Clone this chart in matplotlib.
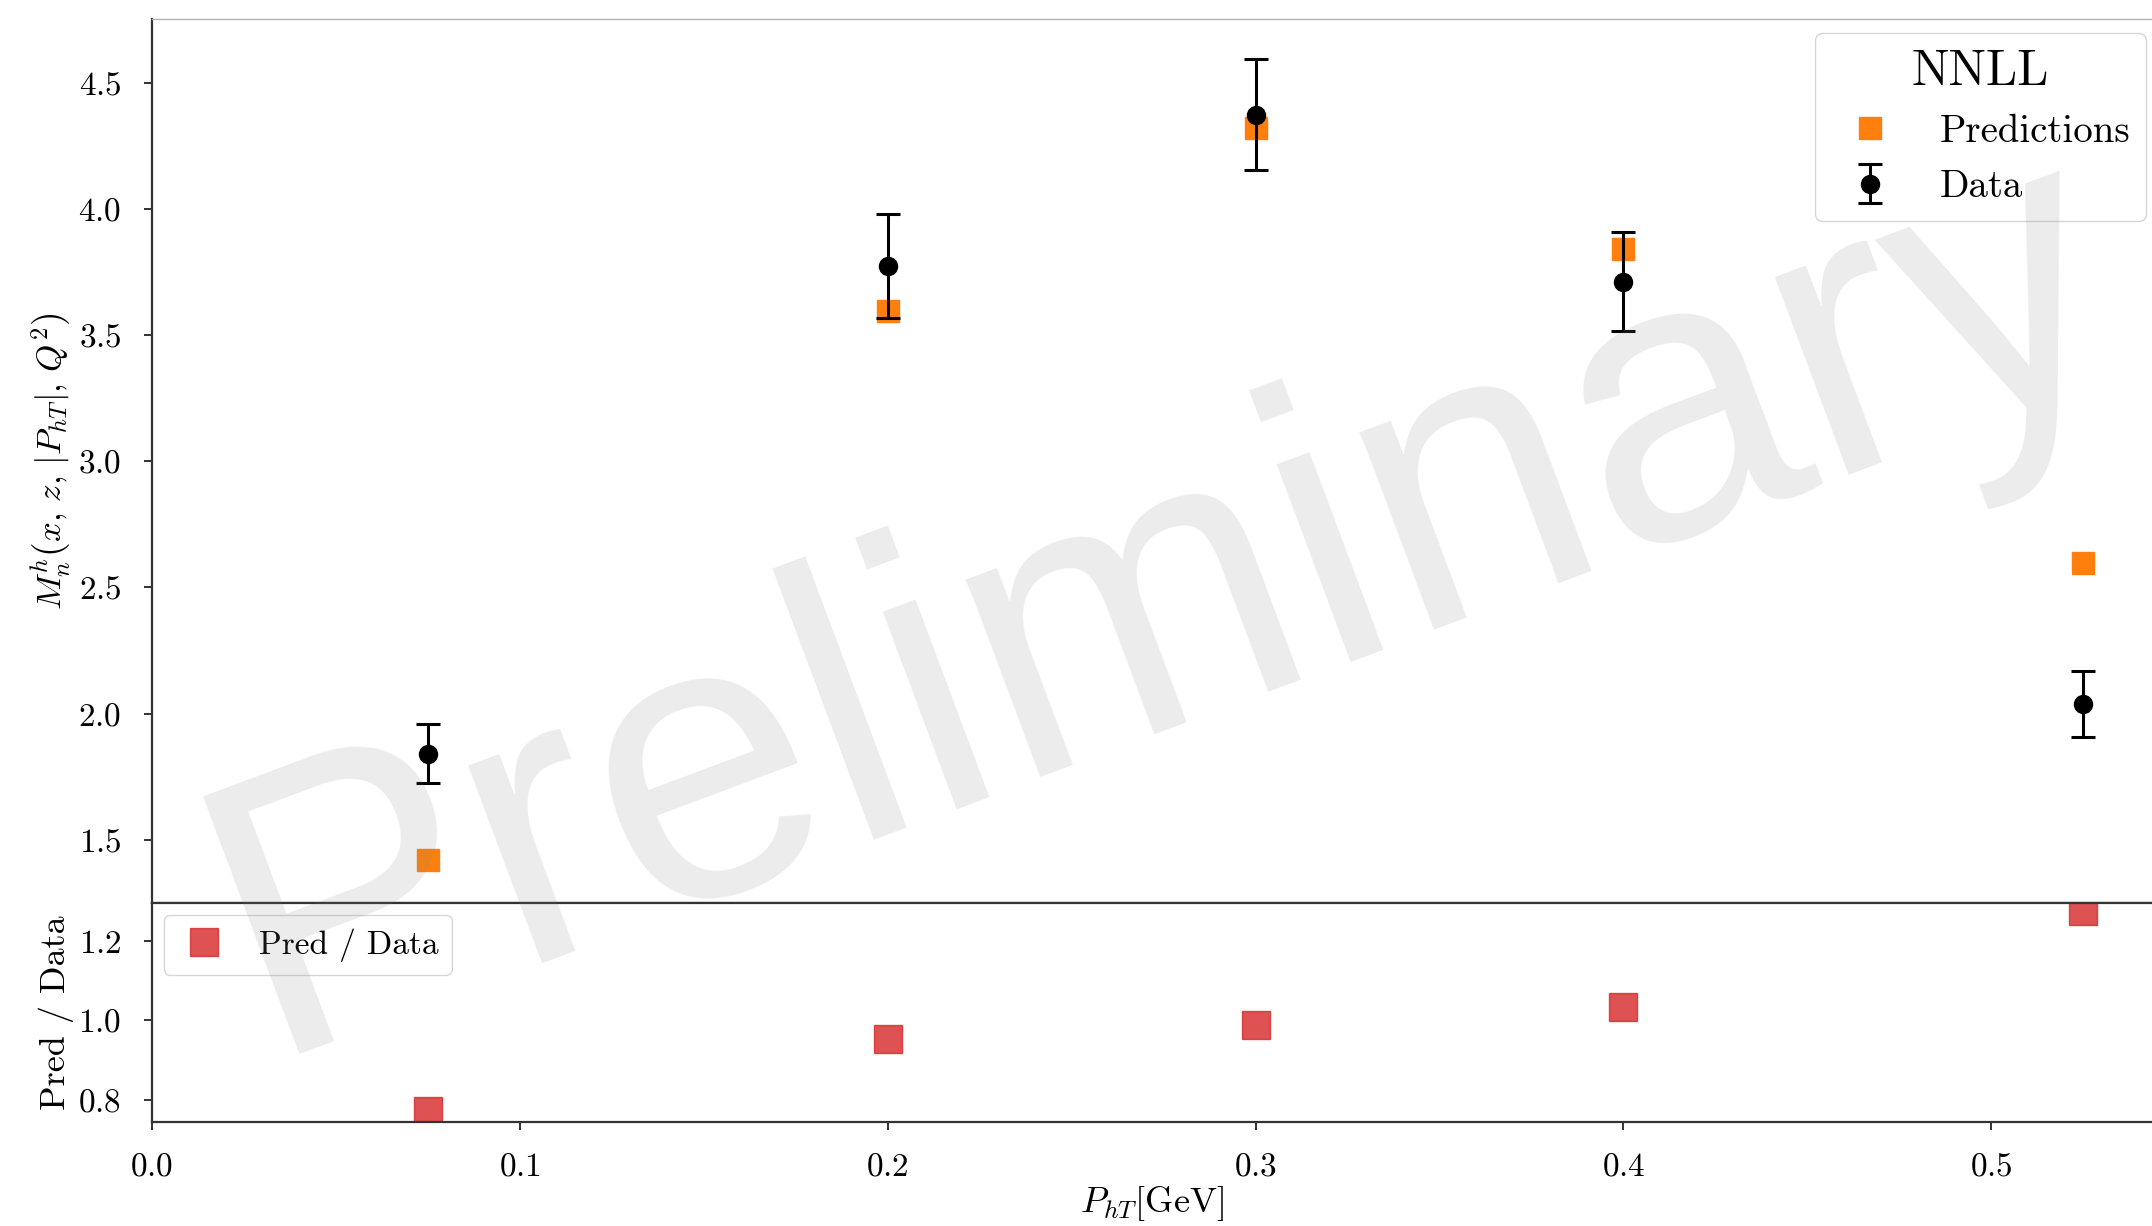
import numpy as np
import matplotlib
matplotlib.use("Agg")
import matplotlib.pyplot as plt
from matplotlib import rcParams

rcParams['font.family'] = 'serif'
rcParams['font.serif'] = ['cmr10']
rcParams['mathtext.fontset'] = 'cm'
rcParams['axes.formatter.use_mathtext'] = True
rcParams['axes.unicode_minus'] = False
rcParams['xtick.labelsize'] = 24
rcParams['ytick.labelsize'] = 24

# P_hT bins and moments (NNLL)
pht = [0.075, 0.2, 0.3, 0.4, 0.525]
data = [1.84, 3.775, 4.375, 3.713, 2.038]
data_err = [0.117, 0.207, 0.221, 0.196, 0.13]
pred = [1.42, 3.595, 4.32, 3.842, 2.598]

ratio = np.array(pred) / np.array(data)

W, H = 2152, 1226
fig = plt.figure(figsize=(W / 100, H / 100), dpi=100)
ax = fig.add_axes([152 / W, 1 - 903 / H, 2000 / W, 884 / H])
rax = fig.add_axes([152 / W, 1 - 1122 / H, 2000 / W, 219 / H], sharex=ax)

ax.plot(pht, pred, 's', color='#ff7f0e', ms=16, label='Predictions', zorder=2)
ax.errorbar(pht, data, yerr=data_err, fmt='o', color='black', ms=13,
            capsize=8.5, elinewidth=2.2, capthick=2.2, label='Data', zorder=3)

rax.plot(pht, ratio, 's', color='tab:red', alpha=0.8, ms=19.5,
         label='Pred / Data')

ax.set_xlim(0, 0.5437)
ax.set_ylim(1.249, 4.754)
rax.set_ylim(0.7435, 1.296)

ax.set_yticks([1.5, 2.0, 2.5, 3.0, 3.5, 4.0, 4.5])
rax.set_yticks([0.8, 1.0, 1.2])
rax.set_xticks([0.0, 0.1, 0.2, 0.3, 0.4, 0.5])

for a in (ax, rax):
    a.spines['right'].set_visible(False)
    for s in ('left', 'bottom', 'top'):
        a.spines[s].set_color('0.2')
        a.spines[s].set_linewidth(1.6)
    a.tick_params(direction='out', length=6, width=1.4, pad=16, color='0.2')
ax.spines['top'].set_color('0.7')
ax.spines['top'].set_linewidth(1.0)
ax.tick_params(axis='x', bottom=False, labelbottom=False)

ax.set_ylabel(r'$M_n^h\left(x,\, z,\, |P_{hT}|,\, Q^2\right)$', fontsize=25)
rax.set_ylabel('Pred / Data', fontsize=26)
rax.set_xlabel(r'$P_{hT}$[GeV]', fontsize=26, labelpad=2)
ax.yaxis.set_label_coords(-0.039, 0.5)
rax.yaxis.set_label_coords(-0.039, 0.5)

handles, labels = ax.get_legend_handles_labels()
ax.legend(handles, labels, title='NNLL', fontsize=28, title_fontsize=36,
          loc='upper right', bbox_to_anchor=(0.997, 0.984), borderaxespad=0)
rax.legend(loc='upper left', fontsize=24, handlelength=1.6,
           handletextpad=0.85, borderaxespad=0.35)

fig.text(0.5576, 0.425, 'Preliminary', fontsize=287, family='Liberation Sans',
         color='gray', alpha=0.15, rotation=20.5, rotation_mode='anchor',
         ha='center', va='baseline')

fig.savefig('out.png', dpi=100)
